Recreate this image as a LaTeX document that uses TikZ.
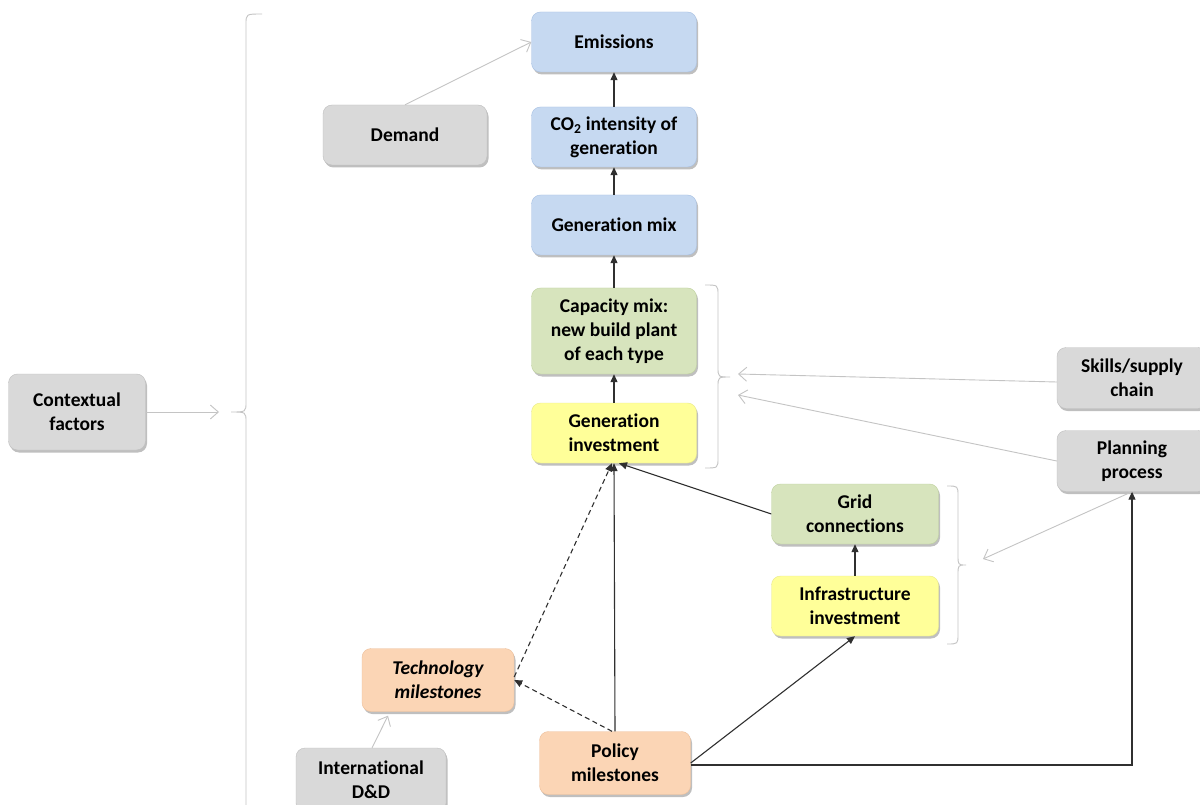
\documentclass[tikz,border=0pt]{standalone}
\usepackage{fontspec}
\setmainfont{Carlito}[Ligatures=NoCommon]
\usetikzlibrary{arrows.meta,shadows}
\definecolor{bluef}{HTML}{C6D9F1}
\definecolor{blued}{HTML}{A7C0E3}
\definecolor{greenf}{HTML}{D7E4BD}
\definecolor{greend}{HTML}{BFD19E}
\definecolor{yellowf}{HTML}{FFFF99}
\definecolor{yellowd}{HTML}{E8E88A}
\definecolor{orangef}{HTML}{FBD5B5}
\definecolor{oranged}{HTML}{EDBF9B}
\definecolor{grayf}{HTML}{D9D9D9}
\definecolor{grayd}{HTML}{BFBFBF}
\definecolor{lineg}{HTML}{C4C4C4}
\definecolor{darkl}{HTML}{303030}
\tikzset{
  box/.style={rounded corners=9pt, align=center, inner sep=2pt,
    font=\fontsize{19.5}{24}\selectfont\bfseries, text=black,
    drop shadow={shadow xshift=1.5pt, shadow yshift=-2.5pt, opacity=0.25, fill=black}},
  bluebox/.style={box, fill=bluef, draw=blued, minimum width=165pt, minimum height=60pt},
  greenbox/.style={box, fill=greenf, draw=greend},
  yellowbox/.style={box, fill=yellowf, draw=yellowd},
  orangebox/.style={box, fill=orangef, draw=oranged},
  graybox/.style={box, fill=grayf, draw=grayd},
  blk/.style={draw=darkl, line width=1.1pt, -{Triangle[length=8pt,width=7pt]}},
  blkdash/.style={blk, dash pattern=on 5pt off 3.5pt},
  gr/.style={draw=lineg, line width=0.9pt, -{Straight Barb[length=8pt,width=14pt]}},
  brace/.style={draw=lineg, line width=0.9pt},
}
\begin{document}
\begin{tikzpicture}[x=1pt,y=-1pt]
\clip (0,0) rectangle (1200,805);
\fill[white] (0,0) rectangle (1200,805);

% nodes
\node[bluebox] (emis) at (614,42) {Emissions};
\node[bluebox] (co2) at (614,137) {CO\textsubscript{2} intensity of\\generation};
\node[bluebox] (genmix) at (614,225) {Generation mix};
\node[greenbox, minimum width=165pt, minimum height=86pt] (cap) at (614,331) {Capacity mix:\\new build plant\\of each type};
\node[yellowbox, minimum width=165pt, minimum height=60pt] (geninv) at (614,433) {Generation\\investment};
\node[graybox, minimum width=164pt, minimum height=60pt] (demand) at (405,135) {Demand};
\node[graybox, minimum width=137pt, minimum height=76pt] (context) at (77,412) {Contextual\\factors};
\node[graybox, minimum width=150pt, minimum height=61pt] (skills) at (1132,378) {Skills/supply\\chain};
\node[graybox, minimum width=150pt, minimum height=61pt] (planning) at (1132,461) {Planning\\process};
\node[greenbox, minimum width=167pt, minimum height=60pt] (grid) at (855,514) {Grid\\connections};
\node[yellowbox, minimum width=167pt, minimum height=60pt] (infra) at (855,606) {Infrastructure\\investment};
\node[orangebox, minimum width=152pt, minimum height=63pt] (tech) at (438,680) {\itshape Technology\\\itshape milestones};
\node[orangebox, minimum width=151pt, minimum height=63pt] (policy) at (615,763) {Policy\\milestones};
\node[graybox, minimum width=150pt, minimum height=64pt] (intl) at (371,780) {International\\D\&D};

% brackets
\coordinate (bigtip) at (219,412);
\coordinate (captip) at (738,374);
\coordinate (captip2) at (738,395);
\coordinate (gridtip) at (983,559);
\path[brace] (262,14) .. controls (246,14) .. (246,24) -- (246,402) .. controls (246,412) .. (231,412)
  .. controls (246,412) .. (246,422) -- (246,815);
\path[brace] (705,285) .. controls (718,285) .. (718,295) -- (718,367) .. controls (718,377) .. (730,377)
  .. controls (718,377) .. (718,387) -- (718,458) .. controls (718,468) .. (705,468);
\path[brace] (947,486) .. controls (958,486) .. (958,496) -- (958,555) .. controls (958,565) .. (966,565)
  .. controls (958,565) .. (958,575) -- (958,634) .. controls (958,644) .. (947,644);

% black connectors
\path[blk] (co2) -- (emis);
\path[blk] (genmix) -- (co2);
\path[blk] (cap) -- (genmix);
\path[blk] (geninv) -- (cap);
\path[blk] (policy.north) -- (geninv.south);
\path[blk] (grid.west) -- ([xshift=5pt]geninv.south);
\path[blkdash] ([yshift=3pt]tech.east) -- ([xshift=-2pt]geninv.south);
\path[blkdash] ([xshift=-3pt]policy.north) -- (tech.east);
\path[blk] (policy.east) -- (infra.south);
\path[blk] ([yshift=-2pt]policy.east) -- ([yshift=-2pt]policy.east -| planning.south) -- (planning.south);
\path[blk] (infra) -- (grid);

% gray connectors
\path[gr] (demand.north) -- (emis.west);
\path[gr] (context.east) -- (bigtip);
\path[gr] ([yshift=-4pt]skills.west) -- (captip);
\path[gr] (planning.west) -- (captip2);
\path[gr] (planning.south) -- (gridtip);
\path[gr] ([xshift=1pt]intl.north) -- ([xshift=-50pt,yshift=-4pt]tech.south);
\end{tikzpicture}
\end{document}
